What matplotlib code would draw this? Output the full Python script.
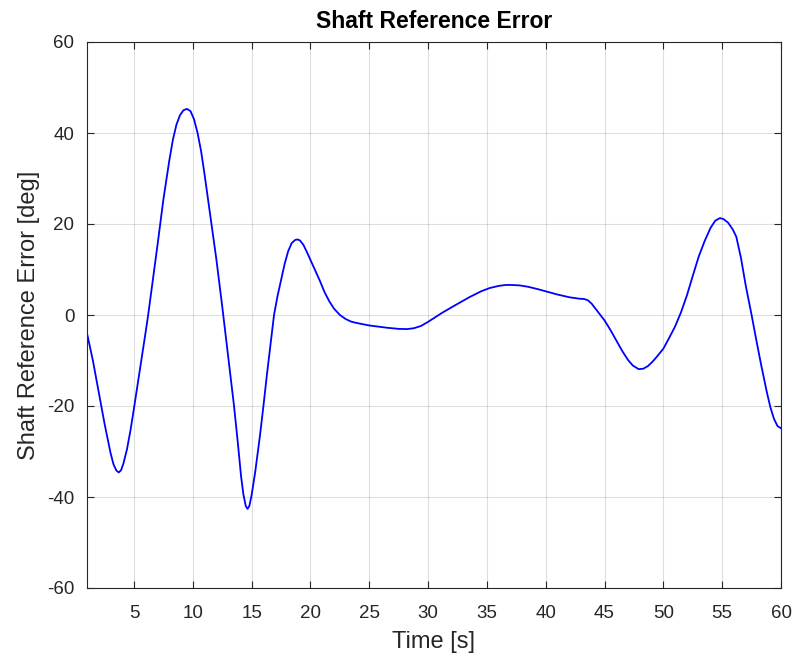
import matplotlib
matplotlib.use("Agg")
import matplotlib.pyplot as plt

plt.rcParams['font.family'] = ['Liberation Sans', 'DejaVu Sans']
plt.rcParams['axes.unicode_minus'] = False

time_s = [1.0, 1.25, 1.5, 2.0, 2.5, 3.0, 3.25, 3.5, 3.7, 3.9, 4.1, 4.4, 4.7, 5.0,
          5.5, 6.0, 6.2, 6.6, 7.0, 7.5, 8.0, 8.3, 8.6, 8.9, 9.2, 9.5, 9.8, 10.1,
          10.4, 10.7, 11.0, 11.5, 12.0, 12.5, 13.0, 13.5, 13.8, 14.1, 14.3, 14.5,
          14.65, 14.8, 15.0, 15.3, 15.7, 16.0, 16.3, 16.9, 17.2, 17.5, 17.8, 18.1,
          18.4, 18.7, 18.9, 19.1, 19.4, 19.7, 20.0, 20.4, 20.8, 21.2, 21.6, 22.0,
          22.5, 23.0, 23.5, 24.2, 25.0, 26.5, 27.5, 28.2, 28.8, 29.4, 30.0, 30.6,
          31.2, 32.2, 33.5, 34.5, 35.2, 36.0, 36.6, 37.1, 37.8, 38.5, 39.3, 40.0,
          41.0, 42.0, 42.8, 43.3, 43.6, 43.9, 44.2, 44.6, 45.0, 45.5, 46.0, 46.5,
          47.0, 47.4, 47.9, 48.3, 48.7, 49.1, 49.5, 50.0, 50.5, 51.0, 51.5, 52.0,
          52.5, 53.0, 53.5, 54.0, 54.4, 54.8, 55.1, 55.5, 55.9, 56.2, 56.6, 57.0,
          57.5, 57.9, 58.3, 58.8, 59.1, 59.4, 59.7, 60.0]
error_deg = [-4.0, -7.0, -10.0, -17.0, -24.0, -30.3, -32.8, -34.2, -34.6, -34.1,
             -32.6, -29.5, -25.3, -20.4, -12.0, -3.5, 0.0, 7.7, 15.5, 25.5, 34.0,
             38.5, 41.8, 43.9, 45.0, 45.3, 44.8, 43.0, 40.0, 36.0, 30.8, 21.5, 12.2,
             1.8, -9.0, -20.0, -27.5, -35.5, -39.5, -42.0, -42.6, -42.0, -39.5,
             -34.5, -26.6, -20.0, -13.0, 0.0, 4.2, 7.7, 11.2, 14.0, 15.8, 16.5, 16.6,
             16.4, 15.4, 13.8, 12.1, 9.8, 7.5, 5.0, 3.0, 1.4, 0.0, -0.9, -1.5, -1.9,
             -2.3, -2.8, -3.05, -3.1, -2.9, -2.4, -1.5, -0.5, 0.5, 2.0, 3.9, 5.2,
             5.9, 6.4, 6.6, 6.6, 6.5, 6.2, 5.7, 5.2, 4.5, 3.9, 3.6, 3.5, 3.2, 2.5,
             1.5, 0.2, -1.2, -3.3, -5.6, -7.9, -9.9, -11.1, -11.9, -11.8, -11.2,
             -10.2, -9.0, -7.4, -5.0, -2.5, 0.6, 4.3, 8.6, 12.8, 16.2, 19.1, 20.7,
             21.3, 21.1, 20.3, 18.8, 17.2, 12.5, 6.5, 0.0, -5.5, -10.8, -17.0,
             -20.3, -22.8, -24.4, -24.9]

x_ticks = [5, 10, 15, 20, 25, 30, 35, 40, 45, 50, 55, 60]
y_ticks = [-60, -40, -20, 0, 20, 40, 60]

dark = (0.15, 0.15, 0.15)

fig = plt.figure(figsize=(7.95, 6.57), dpi=100)
ax = fig.add_axes([87/795, 1-588/657, (781-87)/795, (588-42)/657])

ax.plot(time_s, error_deg, color=(0, 0, 1), linewidth=1.3)

ax.set_xlim(1, 60)
ax.set_ylim(-60, 60)
ax.set_xticks(x_ticks)
ax.set_yticks(y_ticks)
ax.grid(True, color=dark, alpha=0.15, linewidth=0.8)
ax.tick_params(direction='in', top=True, right=True, length=5, width=0.8,
               colors=dark, labelsize=13.5, labelcolor=dark)
ax.tick_params(axis='x', pad=12)
ax.tick_params(axis='y', pad=9)
for s in ax.spines.values():
    s.set_color(dark)
    s.set_linewidth(0.8)

ax.set_title('Shaft Reference Error', fontsize=16.5, fontweight='bold', pad=10)
ax.set_xlabel('Time [s]', fontsize=17, color=dark, labelpad=7)
ax.set_ylabel('Shaft Reference Error [deg]', fontsize=17, color=dark, labelpad=5)

fig.savefig('out.png', dpi=100, facecolor='white')
